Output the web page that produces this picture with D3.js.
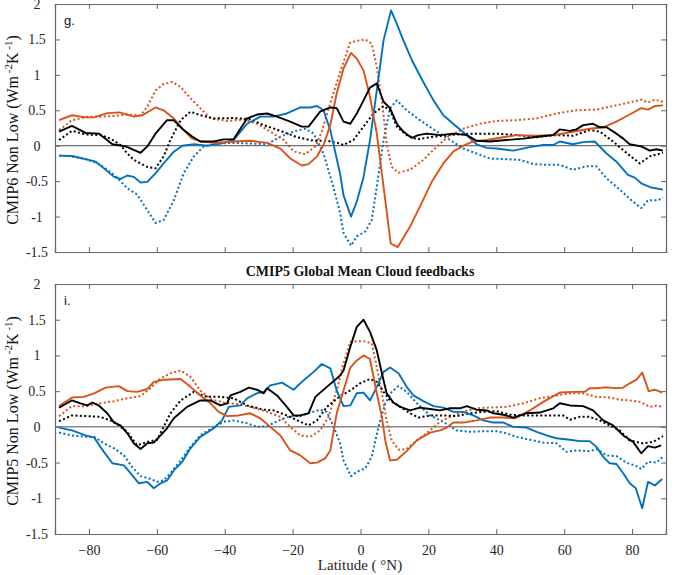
<!DOCTYPE html>
<html>
<head>
<meta charset="utf-8">
<script src="https://cdn.jsdelivr.net/npm/d3@7"></script>
<style>
  body { margin: 0; background: #fff; }
  svg { display: block; }
  svg text { font-family: "Liberation Serif", "Times New Roman", Times, serif; }
  svg text.sans { font-family: "Liberation Sans", Arial, sans-serif; }
</style>
</head>
<body>
<div id="chart"></div>
<script>
var width = 676;
var height = 575;

// tick values
var latTicks = [-80, -60, -40, -20, 0, 20, 40, 60, 80];
var valTicks = [-1.5, -1, -0.5, 0, 0.5, 1, 1.5, 2];

// panel g. (CMIP6) -- [latitude, value]
var gOrange = [[-88.8,0.36],[-85,0.43],[-81,0.40],[-78.5,0.40],[-74.6,0.46],[-71,0.47],[-66.8,0.41],[-64.3,0.43],[-60.4,0.54],[-58,0.50],[-55,0.385],[-52.5,0.24],[-49.6,0.10],[-47,0.06],[-43,0.04],[-37.4,0.06],[-32.5,0.07],[-27.5,0.04],[-23.6,-0.04],[-20.7,-0.18],[-17.3,-0.28],[-15.3,-0.26],[-12.8,-0.15],[-10.9,0.01],[-8.9,0.29],[-7,0.74],[-5,1.09],[-2.8,1.31],[-1.1,1.23],[0.9,1.06],[2.8,0.69],[4.8,0.17],[6.8,-0.58],[8.9,-1.38],[11,-1.43],[14.6,-1.14],[17.5,-0.86],[21,-0.51],[24.4,-0.25],[27.4,-0.08],[30.3,0],[33.2,0.06],[37.2,0.08],[42,0.12],[46,0.15],[51.9,0.14],[57.7,0.155],[63,0.2],[67.5,0.24],[71.5,0.26],[75.4,0.34],[79.3,0.44],[82.7,0.53],[84.7,0.51],[86.7,0.56],[89.1,0.57]];
var gOrangeDot = [[-88.8,0.22],[-85,0.36],[-80.5,0.41],[-76.6,0.41],[-72.6,0.42],[-68.7,0.44],[-64.8,0.43],[-62.8,0.55],[-60.4,0.78],[-58,0.87],[-55.5,0.90],[-53,0.83],[-50.1,0.67],[-47.2,0.53],[-44.2,0.385],[-39.3,0.35],[-34.4,0.37],[-30.5,0.31],[-26.6,0.20],[-22.6,0.08],[-19.7,-0.08],[-16.3,-0.12],[-13.3,-0.01],[-11.4,0.2],[-8.9,0.6],[-6,1.04],[-3,1.46],[-1.1,1.48],[1.4,1.50],[3.3,1.44],[4.8,1.11],[6.3,0.64],[7.7,0.03],[9.2,-0.3],[11.2,-0.38],[14.6,-0.34],[18.5,-0.20],[22.5,-0.01],[25.9,0.13],[30.3,0.24],[35.2,0.31],[40.1,0.35],[46,0.36],[51.9,0.385],[57.7,0.455],[63.6,0.50],[69.5,0.51],[74.4,0.56],[79.3,0.61],[82.7,0.65],[84.7,0.61],[86.7,0.65],[89.1,0.62]];
var gBlack = [[-88.8,0.20],[-85,0.28],[-81,0.18],[-77,0.17],[-73.1,0.02],[-69.2,-0.01],[-66.8,-0.06],[-64.8,-0.1],[-62.8,-0.01],[-60.4,0.17],[-57,0.36],[-55,0.36],[-52.5,0.24],[-49.6,0.13],[-47.2,0.06],[-43.2,0.06],[-40.3,0.09],[-37.4,0.09],[-33.4,0.385],[-30.5,0.44],[-27.5,0.455],[-24.6,0.41],[-20.7,0.34],[-17.3,0.27],[-15.3,0.27],[-11.9,0.48],[-8.9,0.54],[-7,0.53],[-5,0.34],[-3,0.31],[-1.1,0.455],[0.9,0.64],[2.8,0.82],[4.8,0.88],[6.8,0.62],[8.7,0.53],[10.7,0.31],[12.6,0.20],[15.1,0.11],[17,0.15],[19.5,0.17],[23.4,0.15],[27.4,0.17],[31.3,0.15],[34.2,0.07],[38.1,0.06],[43,0.08],[47.9,0.10],[52.8,0.13],[56.8,0.15],[58.7,0.23],[61.7,0.21],[63.6,0.23],[65.6,0.29],[68.5,0.31],[70.5,0.26],[72.5,0.26],[75.4,0.17],[77.4,0.10],[79.3,0.02],[82.7,-0.01],[85.2,-0.07],[87.2,-0.05],[89.1,-0.07]];
var gBlackDot = [[-88.8,0.08],[-85,0.21],[-81,0.16],[-76.6,0.15],[-73.6,0.10],[-70.7,0.01],[-68.7,-0.11],[-66.8,-0.2],[-62.8,-0.3],[-60.4,-0.32],[-58,-0.15],[-56,0.08],[-53,0.36],[-50.1,0.48],[-47.2,0.43],[-43.2,0.385],[-37.4,0.39],[-32.5,0.375],[-28.5,0.29],[-23.6,0.21],[-18.7,0.12],[-13.8,0.07],[-9.9,0.07],[-6,0.03],[-5,0.01],[-2.1,0.08],[0.9,0.27],[3.8,0.455],[6.8,0.56],[8.7,0.50],[10.7,0.27],[13.6,0.15],[16.6,0.09],[20.5,0.12],[25.4,0.15],[32.3,0.17],[40.1,0.17],[46,0.15],[51.9,0.12],[57.7,0.15],[62.6,0.14],[67.5,0.22],[70.5,0.20],[74.4,0.06],[78.3,-0.1],[82.3,-0.25],[85.2,-0.15],[89.1,-0.1]];
var gBlue = [[-88.8,-0.14],[-85,-0.145],[-81,-0.19],[-78,-0.225],[-75.6,-0.32],[-72.6,-0.44],[-70.7,-0.47],[-68.7,-0.42],[-66.8,-0.44],[-64.8,-0.52],[-62.8,-0.51],[-60.4,-0.39],[-58,-0.25],[-55,-0.085],[-52.5,0],[-49.1,0.02],[-45.2,0],[-41.3,0.03],[-37.4,0.08],[-33.4,0.31],[-29.5,0.41],[-25.6,0.41],[-21.7,0.455],[-17.7,0.54],[-14.8,0.54],[-12.8,0.56],[-10.9,0.50],[-8.9,0.22],[-6,-0.4],[-5,-0.7],[-2.8,-1.0],[-1.1,-0.79],[0.9,-0.44],[2.8,0.08],[4.8,0.78],[6.8,1.49],[9,1.91],[10.7,1.72],[12.6,1.49],[15.1,1.21],[18.5,0.90],[21.5,0.64],[24.4,0.43],[27.8,0.29],[31.3,0.15],[34.2,0.02],[37.2,-0.03],[40.1,-0.04],[45,-0.07],[49.9,-0.02],[53.8,0.01],[56.8,0.01],[58.7,0.06],[62.6,0.02],[65.6,0.05],[69,0.06],[72.5,-0.11],[75.4,-0.225],[78.8,-0.41],[80.8,-0.45],[82.7,-0.53],[85.7,-0.59],[89.1,-0.62]];
var gBlueDot = [[-88.8,-0.14],[-85,-0.15],[-81,-0.19],[-78,-0.24],[-76.6,-0.27],[-72.6,-0.41],[-68.7,-0.6],[-65.8,-0.69],[-62.8,-0.91],[-60.4,-1.09],[-58,-1.05],[-55,-0.77],[-52.1,-0.39],[-49.1,-0.15],[-46.2,-0.01],[-42.3,0.03],[-37.4,0.04],[-31.5,0.03],[-27.5,0.02],[-23.6,0.13],[-19.7,0.20],[-16.3,0.24],[-13.8,0.17],[-10.9,-0.11],[-8,-0.58],[-6,-0.95],[-5,-1.23],[-2.8,-1.41],[-1.1,-1.28],[1.4,-1.21],[3.3,-1.05],[4.8,-0.58],[6.8,0.08],[8.7,0.53],[10.7,0.64],[13.6,0.50],[17.5,0.36],[22.5,0.20],[26.4,0.08],[30.3,-0.04],[34.2,-0.11],[38.1,-0.18],[43,-0.19],[47,-0.2],[50.9,-0.26],[54.8,-0.27],[58.7,-0.27],[62.6,-0.34],[66.6,-0.29],[69.5,-0.29],[72.5,-0.46],[76.4,-0.62],[79.8,-0.77],[82.7,-0.88],[84.7,-0.77],[87.6,-0.77],[89.1,-0.73]];

// panel i. (CMIP5)
var iOrange = [[-88.8,0.29],[-85,0.41],[-81.5,0.42],[-78.5,0.47],[-75.1,0.55],[-71.2,0.57],[-68.7,0.50],[-65.8,0.49],[-62.8,0.53],[-60.9,0.63],[-58,0.66],[-53,0.67],[-50.1,0.56],[-47.2,0.44],[-44.2,0.33],[-41.8,0.21],[-39.3,0.15],[-35.9,0.16],[-32.5,0.19],[-29.5,0.12],[-26.6,0],[-23.6,-0.12],[-20.7,-0.33],[-17.7,-0.40],[-14.8,-0.51],[-12.8,-0.50],[-10.4,-0.44],[-8.9,-0.33],[-7,0.19],[-5,0.51],[-3,0.83],[-1.1,0.93],[0.9,1.0],[2.8,0.95],[4.8,0.47],[6.3,0.14],[7.3,-0.19],[8.7,-0.47],[10.7,-0.46],[13.6,-0.34],[16.6,-0.19],[20.5,-0.08],[23.4,-0.05],[25.4,-0.01],[27.4,0.06],[30.3,0.06],[34.2,0.09],[38.1,0.13],[42.1,0.13],[45.5,0.12],[49.9,0.23],[53.8,0.35],[58.7,0.48],[62.6,0.49],[66.1,0.49],[67.5,0.54],[69.5,0.54],[71.5,0.55],[73.4,0.55],[75.4,0.54],[77.4,0.55],[79.3,0.61],[81.3,0.66],[83,0.76],[84.9,0.50],[86.7,0.52],[88.9,0.48]];
var iOrangeDot = [[-88.8,0.15],[-85,0.29],[-80.5,0.29],[-76.6,0.33],[-72.6,0.36],[-68.7,0.40],[-64.8,0.43],[-61.9,0.54],[-58.9,0.68],[-56,0.75],[-53,0.79],[-50.1,0.70],[-47.2,0.51],[-44.2,0.39],[-40.3,0.34],[-36.4,0.32],[-32.5,0.28],[-27.5,0.21],[-23.6,0.14],[-20.7,0],[-17.7,-0.12],[-14.8,-0.14],[-11.9,-0.05],[-9.4,0.14],[-7,0.51],[-5,0.89],[-3,1.19],[-1.1,1.20],[0.9,1.20],[3.3,1.17],[4.8,0.84],[6.3,0.47],[7.7,0.09],[9.2,-0.19],[11.2,-0.32],[13.6,-0.31],[16.6,-0.19],[20.5,-0.05],[23.4,0.07],[26.4,0.14],[30.3,0.21],[34.2,0.26],[38.1,0.27],[43,0.28],[47.9,0.33],[52.8,0.40],[57.7,0.44],[61.7,0.47],[65.6,0.47],[69.5,0.42],[73.4,0.41],[76.4,0.38],[79.3,0.37],[82.3,0.35],[85.2,0.28],[87.6,0.30],[89.1,0.27]];
var iBlack = [[-88.8,0.27],[-86.9,0.32],[-85,0.37],[-82.5,0.33],[-80.5,0.30],[-79,0.34],[-77.1,0.30],[-74.6,0.19],[-72.6,0.06],[-70.7,0.02],[-68.7,-0.09],[-66.8,-0.23],[-64.8,-0.31],[-62.8,-0.23],[-60.9,-0.22],[-58.9,-0.12],[-57,-0.02],[-55,0.12],[-51.1,0.28],[-47.2,0.37],[-44.2,0.37],[-41.3,0.30],[-39.3,0.33],[-38.3,0.44],[-35.4,0.49],[-32.9,0.55],[-30.5,0.52],[-28.5,0.47],[-27.5,0.54],[-24.6,0.44],[-21.7,0.28],[-19.7,0.16],[-17.7,0.16],[-15.3,0.19],[-13.3,0.42],[-9.9,0.56],[-6,0.72],[-5,0.79],[-3,1.12],[-1.1,1.40],[0.9,1.50],[2.8,1.33],[4.8,1.07],[6.3,0.75],[7.7,0.47],[9.7,0.34],[11.7,0.28],[14.6,0.23],[17.5,0.27],[20.5,0.25],[23.4,0.23],[26.4,0.26],[29.3,0.26],[31.3,0.29],[34.2,0.24],[37.2,0.23],[39.1,0.19],[42.1,0.17],[45,0.13],[48.9,0.19],[52.8,0.2],[56.8,0.26],[58.7,0.33],[61.7,0.30],[65.6,0.29],[68.5,0.23],[71.5,0.09],[74.4,0.02],[77.4,-0.12],[80.3,-0.21],[82.7,-0.37],[84.7,-0.27],[86.7,-0.29],[88.6,-0.26]];
var iBlackDot = [[-88.8,0.08],[-85,0.16],[-80.5,0.15],[-76.6,0.14],[-72.6,0.07],[-68.7,-0.07],[-65.8,-0.26],[-62.8,-0.21],[-59.9,-0.18],[-58,0],[-56,0.19],[-53,0.37],[-49.1,0.49],[-45.2,0.42],[-41.3,0.42],[-37.4,0.40],[-33.4,0.30],[-28.5,0.24],[-25.6,0.23],[-21.7,0.16],[-17.7,0.07],[-15.3,0.02],[-12.8,0.09],[-9.9,0.28],[-6,0.43],[-3,0.51],[-0.1,0.61],[2.8,0.67],[4.8,0.63],[6.8,0.49],[8.7,0.37],[11.7,0.28],[14.6,0.19],[17.1,0.13],[20.5,0.16],[24.4,0.16],[28.3,0.15],[32.3,0.19],[36.2,0.21],[40.1,0.22],[44,0.17],[47.9,0.16],[51.9,0.16],[55.8,0.16],[59.7,0.16],[61.7,0.10],[64.6,0.14],[67.5,0.14],[70.5,0.09],[73.4,0.02],[76.4,-0.05],[79.3,-0.19],[83.2,-0.23],[86.2,-0.21],[89.1,-0.13]];
var iBlue = [[-88.8,-0.01],[-85,-0.05],[-81,-0.12],[-78.5,-0.15],[-75.6,-0.35],[-73.1,-0.51],[-69.7,-0.54],[-67.7,-0.65],[-65.3,-0.79],[-62.8,-0.77],[-60.9,-0.86],[-58.9,-0.79],[-57,-0.75],[-55,-0.61],[-52.5,-0.49],[-50.1,-0.30],[-47.2,-0.14],[-43.2,-0.02],[-40.8,0.09],[-38.8,0.28],[-35.4,0.30],[-33.4,0.40],[-30.5,0.47],[-28.5,0.49],[-26.6,0.58],[-23.1,0.62],[-19.7,0.52],[-16.8,0.65],[-13.8,0.77],[-11.4,0.88],[-8.9,0.82],[-7,0.51],[-5,0.29],[-3,0.30],[-1.1,0.47],[0.9,0.48],[2.8,0.37],[4.8,0.56],[6.8,0.77],[8.7,0.83],[11.2,0.75],[13.6,0.56],[15.6,0.44],[18.5,0.36],[21.5,0.29],[24.4,0.27],[27.4,0.21],[30.3,0.21],[33.2,0.16],[36.2,0.09],[39.1,0.06],[42.1,0.06],[45,0],[48.9,-0.01],[51.9,-0.07],[54.8,-0.12],[57.7,-0.16],[61.7,-0.18],[64.6,-0.2],[67.5,-0.2],[69.5,-0.28],[71.5,-0.42],[73.4,-0.51],[75.4,-0.52],[77.4,-0.65],[79.3,-0.79],[81.1,-0.86],[83,-1.14],[84.7,-0.77],[86.7,-0.82],[88.9,-0.73]];
var iBlueDot = [[-88.8,-0.08],[-85,-0.12],[-81,-0.14],[-78.5,-0.14],[-75.6,-0.23],[-72.6,-0.30],[-69.7,-0.40],[-67.3,-0.56],[-64.8,-0.69],[-62.4,-0.72],[-59.9,-0.77],[-58,-0.75],[-56,-0.65],[-53,-0.47],[-50.1,-0.28],[-47.2,-0.12],[-43.2,0],[-40.3,0.07],[-37.4,0.09],[-33.4,0.05],[-30.5,0],[-27.5,0.01],[-23.6,0.10],[-20.7,0.15],[-17.7,0.15],[-14.8,0.20],[-11.9,0.24],[-9.9,0.21],[-7.9,0],[-6,-0.23],[-5,-0.47],[-2.8,-0.69],[-1.1,-0.63],[1.4,-0.58],[3.3,-0.42],[5.3,0],[7.3,0.33],[9.2,0.49],[11.2,0.57],[13.6,0.49],[16.6,0.33],[20.5,0.16],[24.4,0.07],[28.3,-0.05],[32.3,-0.07],[36.2,-0.06],[40.1,-0.06],[43,-0.09],[46,-0.14],[49.9,-0.18],[53.8,-0.22],[57.7,-0.23],[60.7,-0.35],[63.6,-0.33],[67.5,-0.34],[69.5,-0.31],[72.5,-0.40],[75.4,-0.41],[78.3,-0.50],[81.3,-0.55],[82.7,-0.59],[84.7,-0.49],[87.2,-0.50],[89.1,-0.42]];

var BLUE = "#0072BD", ORANGE = "#D95319", BLACK = "#000000";

var svg = d3.select("#chart").append("svg")
    .attr("width", width)
    .attr("height", height);

var x = d3.scaleLinear().domain([-90, 90]).range([55, 666]);

function drawPanel(top, bottom, series, letter, ylab, showX) {
    var y = d3.scaleLinear().domain([-1.5, 2]).range([bottom, top]);
    var g = svg.append("g");

    // zero line
    g.append("line")
        .attr("x1", x(-90)).attr("x2", x(90))
        .attr("y1", y(0)).attr("y2", y(0))
        .attr("stroke", "#4d4d4d").attr("stroke-width", 1);

    var line = d3.line()
        .x(function(d){ return x(d[0]); })
        .y(function(d){ return y(d[1]); });

    series.forEach(function(s) {
        g.append("path")
            .datum(s.data)
            .attr("d", line)
            .attr("fill", "none")
            .attr("stroke", s.color)
            .attr("stroke-width", s.dot ? 2 : 1.9)
            .attr("stroke-dasharray", s.dot ? "2,2.4" : null)
            .attr("stroke-linejoin", "round");
    });

    // axes: ticks inward, box all round
    var tickLen = 5;
    g.append("g")
        .attr("transform", "translate(0," + bottom + ")")
        .call(d3.axisBottom(x).tickValues(latTicks).tickSize(-tickLen).tickPadding(11)
            .tickFormat(showX ? d3.format("d") : ""))
        .call(styleAxis);
    g.append("g")
        .attr("transform", "translate(0," + top + ")")
        .call(d3.axisTop(x).tickValues(latTicks).tickSize(-tickLen).tickFormat(""))
        .call(styleAxis);
    g.append("g")
        .attr("transform", "translate(" + x(-90) + ",0)")
        .call(d3.axisLeft(y).tickValues(valTicks).tickSize(-tickLen).tickPadding(8)
            .tickFormat(function(d){ return d; }))
        .call(styleAxis)
        .selectAll("text")
        .attr("text-anchor", "middle")
        .attr("x", -18);
    g.append("g")
        .attr("transform", "translate(" + x(90) + ",0)")
        .call(d3.axisRight(y).tickValues(valTicks).tickSize(-tickLen).tickFormat(""))
        .call(styleAxis);

    // panel letter
    g.append("text")
        .attr("class", "sans")
        .attr("x", 64).attr("y", top + 21)
        .style("font-size", "13px")
        .attr("fill", "#111")
        .text(letter);

    // y label with superscripts
    var yl = g.append("text")
        .attr("transform", "translate(18," + ((top + bottom) / 2 + 2) + ") rotate(-90)")
        .attr("text-anchor", "middle")
        .style("font-size", "16px")
        .attr("fill", "#111");
    yl.append("tspan").text(ylab + " (Wm");
    yl.append("tspan").attr("dy", -6).style("font-size", "11px").text(" -2");
    yl.append("tspan").attr("dy", 6).text("K");
    yl.append("tspan").attr("dy", -6).style("font-size", "11px").text(" -1");
    yl.append("tspan").attr("dy", 6).text(")");
}

function styleAxis(sel) {
    sel.attr("font-family", null);
    sel.select(".domain").attr("stroke", "#666").attr("stroke-width", 1.2);
    sel.selectAll(".tick line").attr("stroke", "#666").attr("stroke-width", 1);
    sel.selectAll(".tick text")
        .attr("fill", "#262626")
        .style("font-size", "14px");
}

drawPanel(4, 252, [
    {data: gBlueDot, color: BLUE, dot: true},
    {data: gOrangeDot, color: ORANGE, dot: true},
    {data: gBlackDot, color: BLACK, dot: true},
    {data: gBlue, color: BLUE},
    {data: gOrange, color: ORANGE},
    {data: gBlack, color: BLACK}
], "g.", "CMIP6 Non Low", false);

drawPanel(284, 534, [
    {data: iBlueDot, color: BLUE, dot: true},
    {data: iOrangeDot, color: ORANGE, dot: true},
    {data: iBlackDot, color: BLACK, dot: true},
    {data: iBlue, color: BLUE},
    {data: iOrange, color: ORANGE},
    {data: iBlack, color: BLACK}
], "i.", "CMIP5 Non Low", true);

svg.append("text")
    .attr("x", 360).attr("y", 276)
    .attr("text-anchor", "middle")
    .style("font-size", "14px")
    .style("font-weight", "bold")
    .attr("fill", "#111")
    .text("CMIP5 Global Mean Cloud feedbacks");

svg.append("text")
    .attr("x", 360).attr("y", 570)
    .attr("text-anchor", "middle")
    .style("font-size", "15px")
    .attr("fill", "#262626")
    .text("Latitude ( \u00b0N)");
</script>
</body>
</html>
